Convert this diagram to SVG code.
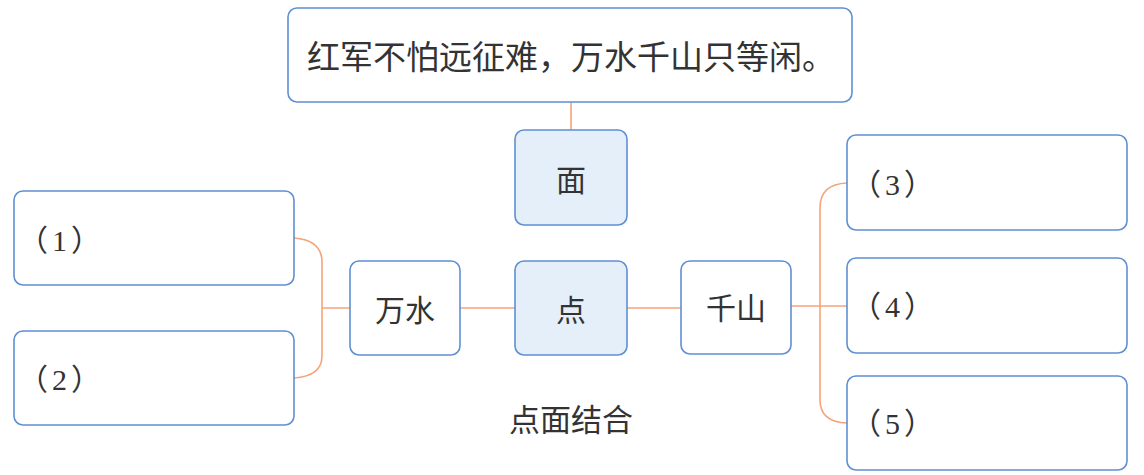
<svg xmlns="http://www.w3.org/2000/svg" width="1144" height="475" viewBox="0 0 1144 475">
<style>
.box{fill:#ffffff;stroke:#5f8fd2;stroke-width:1.6}
.hl{fill:#e4eff9;stroke:#5f8fd2;stroke-width:1.6}
.t{font-family:"Noto Sans CJK SC","Noto Sans",sans-serif;fill:#333333;text-anchor:middle;dominant-baseline:central}
.n{font-family:"Liberation Serif","Noto Sans CJK SC",serif;fill:#333333;font-size:30px;letter-spacing:4px;dominant-baseline:central}
.c{fill:none;stroke:#f5a47a;stroke-width:1.6}
</style>
<rect width="1144" height="475" fill="#ffffff"/>
<g id="connectors">
<line class="c" x1="571" y1="102" x2="571" y2="130"/>
<line class="c" x1="460" y1="308" x2="515" y2="308"/>
<line class="c" x1="627" y1="308" x2="681" y2="308"/>
<path class="c" d="M350 308 H322 M294 238 Q322 240 322 262 V356 Q322 376 294 378"/>
<path class="c" d="M791 306 H847 M847 183 Q820 184 820 208 V400 Q820 422 847 423"/>
</g>
<g id="top"><rect class="box" x="288" y="8" width="564" height="94" rx="9"/><text class="t" x="571" y="55" font-size="33">红军不怕远征难，万水千山只等闲。</text></g>
<g id="mian"><rect class="hl" x="515" y="130" width="112" height="95" rx="9"/><text class="t" x="571" y="178" font-size="30">面</text></g>
<g id="dian"><rect class="hl" x="515" y="261" width="112" height="94" rx="9"/><text class="t" x="571" y="308" font-size="30">点</text></g>
<g id="wanshui"><rect class="box" x="350" y="261" width="110" height="94" rx="9"/><text class="t" x="405" y="308" font-size="30">万水</text></g>
<g id="qianshan"><rect class="box" x="681" y="261" width="110" height="93" rx="9"/><text class="t" x="736" y="306" font-size="30">千山</text></g>
<g id="b1"><rect class="box" x="14" y="191" width="280" height="94" rx="9"/><text class="n" x="18" y="240">（1）</text></g>
<g id="b2"><rect class="box" x="14" y="331" width="280" height="94" rx="9"/><text class="n" x="18" y="379">（2）</text></g>
<g id="b3"><rect class="box" x="847" y="135" width="280" height="95" rx="9"/><text class="n" x="851" y="184">（3）</text></g>
<g id="b4"><rect class="box" x="847" y="258" width="280" height="95" rx="9"/><text class="n" x="851" y="306">（4）</text></g>
<g id="b5"><rect class="box" x="847" y="376" width="280" height="94" rx="9"/><text class="n" x="851" y="423">（5）</text></g>
<g id="caption"><text class="t" x="571" y="417" font-size="31">点面结合</text></g>
</svg>
